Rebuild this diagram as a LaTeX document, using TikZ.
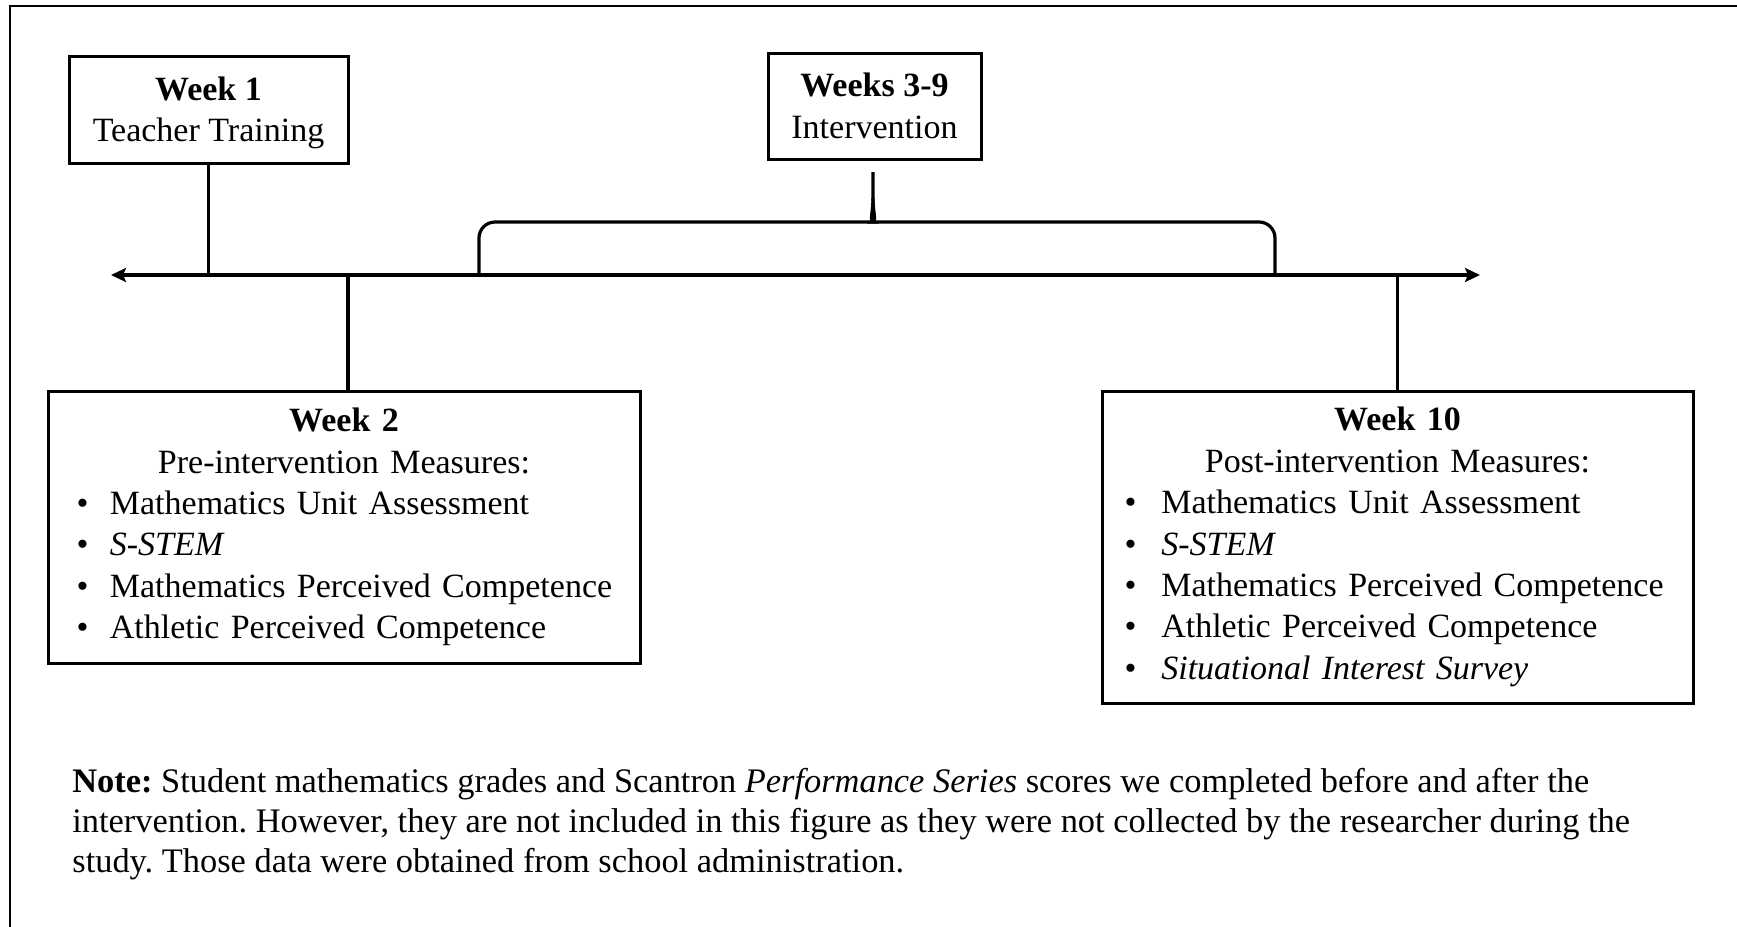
\documentclass[tikz,border=0pt]{standalone}
\usepackage{fontspec}
\setmainfont{Liberation Serif}
\usetikzlibrary{arrows.meta,calc}
\tikzset{
>=Stealth,
week box/.style={draw,line width=1.5pt,align=center,inner sep=0pt,font=\fontsize{17}{20.7}\selectfont\frenchspacing},
linea/.style={line width=1.6pt},
asse/.style={<->,line width=1.6pt,>={Stealth[length=7.5pt,width=7pt,inset=1.5pt]}},
nota/.style={align=left,inner sep=0pt,font=\fontsize{17.2}{20}\selectfont\frenchspacing}}
\newcommand{\voce}[3][14.3pt]{\makebox[\hsize][l]{\hspace{#1}\textbullet\hspace{#2}#3}}

\begin{document}
\begin{tikzpicture}[x=0.5pt,y=-0.5pt]
\useasboundingbox (0,0) rectangle (1737,927);
\draw[line width=0.8pt] (10,927) -- (10,6) -- (1737,6);

\node[week box,minimum width=139.5pt,minimum height=53.5pt,text depth=0pt] (wk1) at (208.5,109.5) {\textbf{Week 1}\\Teacher Training};
\node[week box,minimum width=106.5pt,minimum height=53pt] (wk39) at (874.5,106) {\textbf{Weeks 3-9}\\Intervention};
\node[week box,text width=296pt,minimum height=136pt] (wk2) at (344,527) {\textbf{Week 2}\\Pre-intervention Measures:\\
\voce{10.7pt}{Mathematics Unit Assessment}\\
\voce{10.7pt}{\textit{S-STEM}}\\
\voce{10.7pt}{Mathematics Perceived Competence}\\
\voce{10.7pt}{Athletic Perceived Competence}};
\node[week box,text width=295.5pt,minimum height=156pt] (wk10) at (1397.5,547) {\textbf{Week 10}\\Post-intervention Measures:\\
\voce[11.3pt]{12.4pt}{Mathematics Unit Assessment}\\
\voce[11.3pt]{12.4pt}{\textit{S-STEM}}\\
\voce[11.3pt]{12.4pt}{Mathematics Perceived Competence}\\
\voce[11.3pt]{12.4pt}{Athletic Perceived Competence}\\
\voce[11.3pt]{12.4pt}{\textit{Situational Interest Survey}}};

\coordinate (sx) at (111,275);
\coordinate (dx) at (1480,275);
\coordinate (t2) at (348,275);
\coordinate (gl) at (479,275);
\coordinate (gr) at (1275,275);
\coordinate (punta) at (873,172);

\draw[asse] (sx) -- (dx);
\draw[linea] (wk1.south) -- (wk1.south |- sx);
\draw[linea] (t2) -- (t2 |- wk2.north);
\draw[linea] (wk10.north) -- (wk10.north |- dx);

\draw[linea] (gl) [rounded corners=8pt] |- (858,222) [sharp corners] .. controls (869,222) and (873,213) .. (873,198) -- (punta);
\draw[linea] (gr) [rounded corners=8pt] |- (888,222) [sharp corners] .. controls (877,222) and (873,213) .. (873,198);

\node[nota,anchor=west] (note) at (72,824) {\textbf{Note:} Student mathematics grades and Scantron \textit{Performance Series} scores we completed before and after the\\
intervention. However, they are not included in this figure as they were not collected by the researcher during the\\
study. Those data were obtained from school administration.};
\end{tikzpicture}
\end{document}
